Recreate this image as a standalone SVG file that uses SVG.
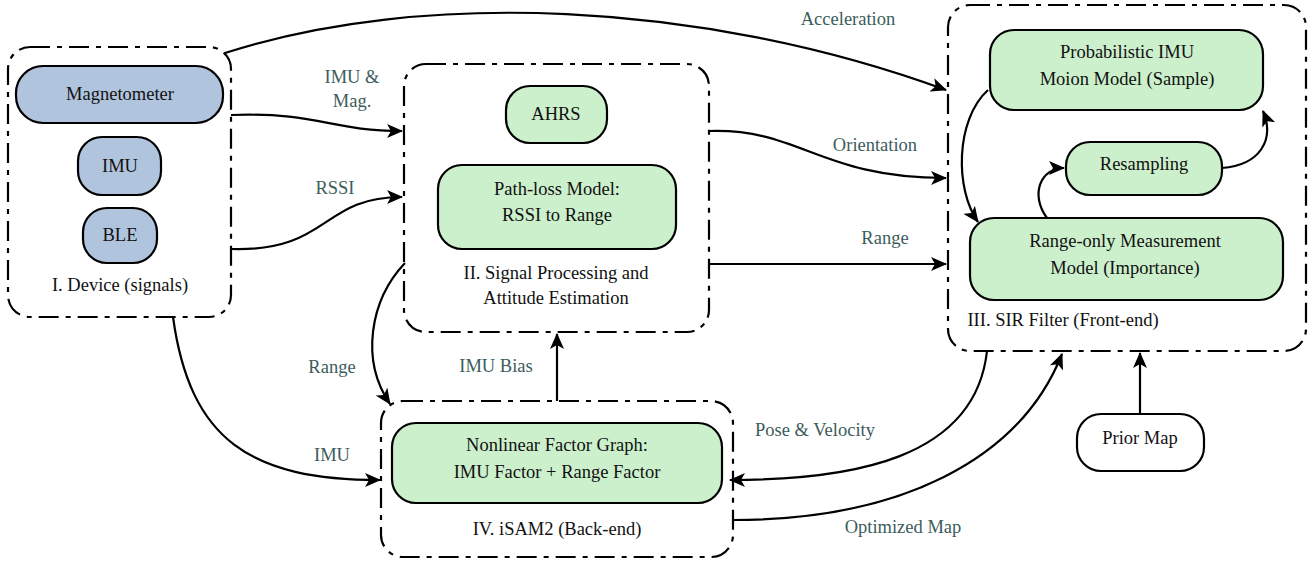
<svg xmlns="http://www.w3.org/2000/svg" width="1313" height="561" viewBox="0 0 1313 561" font-family="'Liberation Serif', 'Times New Roman', 'DejaVu Serif', serif">
<defs>
<marker id="arr" markerUnits="userSpaceOnUse" markerWidth="18" markerHeight="14" refX="15" refY="7" orient="auto">
<path d="M0,0 L16,7 L0,14 L4,7 z" fill="#000"/>
</marker>
<style>
text{font-size:18.5px;text-anchor:middle;fill:#111}
.lbl{fill:#3d5c5c}
.cont{fill:none;stroke:#000;stroke-width:2.2;stroke-dasharray:20 7 5 7}
.blue{fill:#b0c4de;stroke:#000;stroke-width:2.2}
.green{fill:#ccf0cc;stroke:#000;stroke-width:2.2}
.white{fill:#fff;stroke:#000;stroke-width:2.2}
.edge{fill:none;stroke:#000;stroke-width:2.2;marker-end:url(#arr)}
</style>
</defs>
<rect width="1313" height="561" fill="#fff"/>

<g id="containers">
<g id="device"><rect class="cont" x="8" y="47" width="223" height="270" rx="22"/><text x="120" y="291">I. Device (signals)</text></g>
<g id="signal-processing"><rect class="cont" x="404" y="64" width="305" height="268" rx="22"/><text x="556" y="279">II. Signal Processing and</text><text x="556" y="304">Attitude Estimation</text></g>
<g id="sir-filter"><rect class="cont" x="948" y="5" width="358" height="346" rx="22"/><text x="1063" y="326">III. SIR Filter (Front-end)</text></g>
<g id="isam2"><rect class="cont" x="381" y="401" width="352" height="156" rx="22"/><text x="557" y="535">IV. iSAM2 (Back-end)</text></g>
</g>

<g id="connectors">
<path class="edge" d="M225,53 C420,-10 700,0 946,90"/>
<path class="edge" d="M231,115 C320,112 330,131 402,131"/>
<path class="edge" d="M231,249 C330,252 320,197 402,197"/>
<path class="edge" d="M709,131 C800,128 820,178 946,178"/>
<path class="edge" d="M709,264 L946,264"/>
<path class="edge" d="M405,263 C370,300 360,360 390,404"/>
<path class="edge" d="M173,317 C190,440 250,480 380,480"/>
<path class="edge" d="M557,401 L557,334"/>
<path class="edge" d="M987,351 C975,460 850,480 730,480"/>
<path class="edge" d="M733,520 C900,520 1020,460 1062,354"/>
<path class="edge" d="M1140,414 L1140,353"/>
<path class="edge" d="M988,90 C955,120 955,190 978,222"/>
<path class="edge" d="M1047,218 C1030,195 1040,168 1064,168"/>
<path class="edge" d="M1222,168 C1260,165 1275,140 1263,111"/>
<g id="edge-labels">
<text class="lbl" x="848" y="25">Acceleration</text>
<text class="lbl" x="352" y="83">IMU &amp;</text>
<text class="lbl" x="352" y="107">Mag.</text>
<text class="lbl" x="335" y="194">RSSI</text>
<text class="lbl" x="875" y="151">Orientation</text>
<text class="lbl" x="885" y="244">Range</text>
<text class="lbl" x="332" y="373">Range</text>
<text class="lbl" x="496" y="372">IMU Bias</text>
<text class="lbl" x="332" y="461">IMU</text>
<text class="lbl" x="815" y="436">Pose &amp; Velocity</text>
<text class="lbl" x="903" y="533">Optimized Map</text>
</g>
</g>

<g id="magnetometer"><rect class="blue" x="16" y="66" width="207" height="57" rx="27"/><text x="120" y="100">Magnetometer</text></g>
<g id="imu"><rect class="blue" x="78" y="137" width="83" height="58" rx="24"/><text x="120" y="172">IMU</text></g>
<g id="ble"><rect class="blue" x="83" y="208" width="74" height="55" rx="24"/><text x="120" y="241">BLE</text></g>
<g id="ahrs"><rect class="green" x="506" y="86" width="101" height="57" rx="24"/><text x="556" y="120">AHRS</text></g>
<g id="pathloss"><rect class="green" x="438" y="165" width="238" height="84" rx="24"/><text x="557" y="195">Path-loss Model:</text><text x="557" y="221">RSSI to Range</text></g>
<g id="prob-imu"><rect class="green" x="990" y="30" width="273" height="80" rx="24"/><text x="1127" y="58">Probabilistic IMU</text><text x="1127" y="85">Moion Model (Sample)</text></g>
<g id="resampling"><rect class="green" x="1066" y="142" width="156" height="53" rx="24"/><text x="1144" y="170">Resampling</text></g>
<g id="range-only"><rect class="green" x="970" y="218" width="313" height="82" rx="24"/><text x="1125" y="247">Range-only Measurement</text><text x="1125" y="274">Model (Importance)</text></g>
<g id="factor-graph"><rect class="green" x="392" y="423" width="330" height="80" rx="24"/><text x="557" y="451">Nonlinear Factor Graph:</text><text x="557" y="478">IMU Factor + Range Factor</text></g>
<g id="prior-map"><rect class="white" x="1077" y="414" width="127" height="57" rx="24"/><text x="1140" y="444">Prior Map</text></g>
</svg>
